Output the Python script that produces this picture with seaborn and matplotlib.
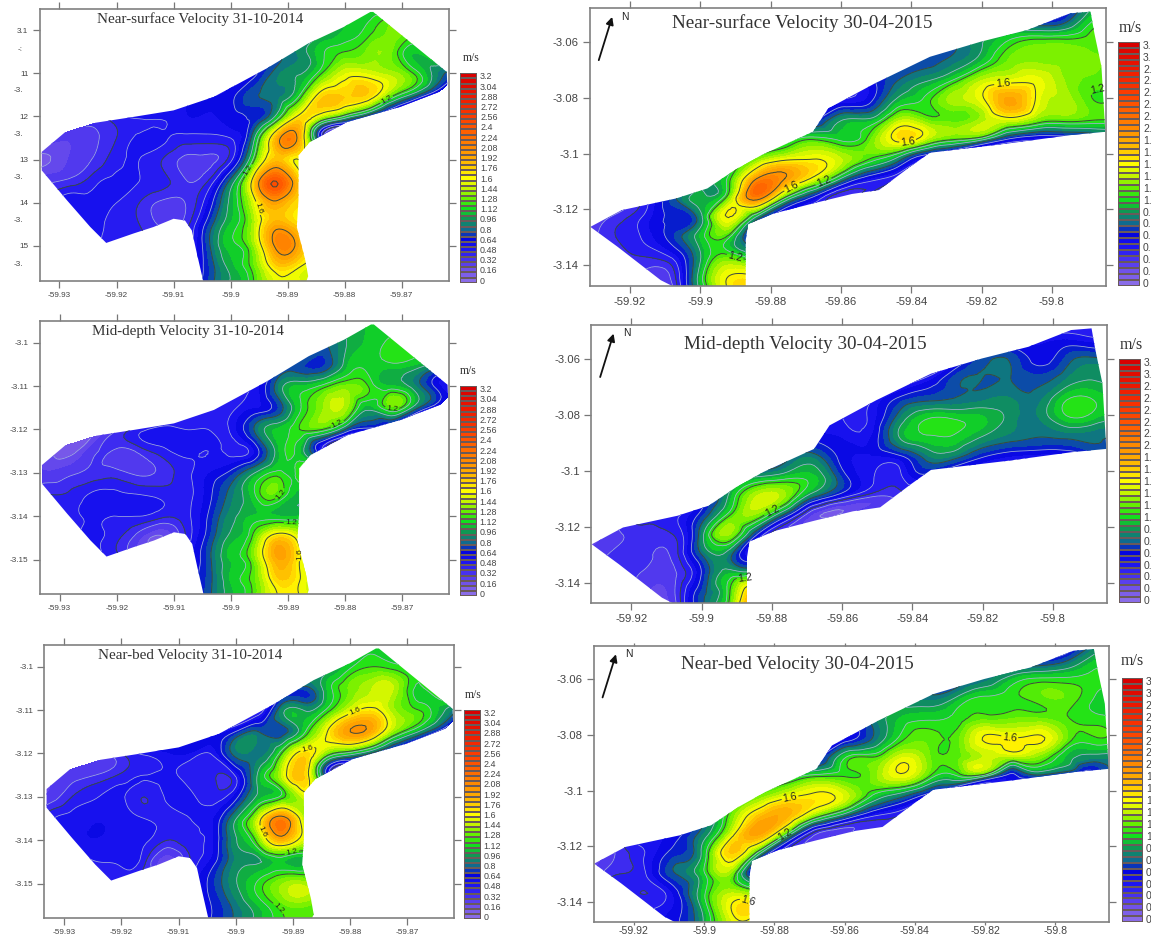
import numpy as np
import matplotlib
matplotlib.use('Agg')
import matplotlib.pyplot as plt
import matplotlib.tri as mtri
from matplotlib.patches import Polygon
from matplotlib.path import Path
import seaborn as sns

W, H = 1151, 936

# colour bar stops, one for each 0.16 m/s from 0 to 3.2
VELOCITY_COLORS = ['#8a6ce8', '#6f50ea', '#4530f0', '#1c14f2', '#0505e0', '#0f6a90', '#0f9a50',
                   '#12e01c', '#66f000', '#c4f400', '#ffff00', '#ffcc00', '#ffa800', '#ff8a00',
                   '#ff6e00', '#ff5200', '#fb3c00', '#f42800', '#ec1800', '#e20c00', '#d80000']
CBAR_LEVELS = [0, 0.08, 0.16, 0.24, 0.32, 0.4, 0.48, 0.56, 0.64, 0.72, 0.8, 0.88, 0.96, 1.04,
               1.12, 1.2, 1.28, 1.36, 1.44, 1.52, 1.6, 1.68, 1.76, 1.84, 1.92, 2.0, 2.08, 2.16,
               2.24, 2.32, 2.4, 2.48, 2.56, 2.64, 2.72, 2.8, 2.88, 2.96, 3.04, 3.12, 3.2]
CBAR_LABELS = ['3.2', '3.04', '2.88', '2.72', '2.56', '2.4', '2.24', '2.08', '1.92', '1.76', '1.6',
               '1.44', '1.28', '1.12', '0.96', '0.8', '0.64', '0.48', '0.32', '0.16', '0']
CBAR_LABELS_CUT = ['3.', '3.', '2.', '2.', '2.', '2.', '2.', '2.', '1.', '1.', '1.',
                   '1.', '1.', '1.', '0.', '0.', '0.', '0.', '0.', '0.', '0']
CBAR_LABELS_CUT2 = ['3', '3', '2', '2', '2', '2', '2', '2', '1', '1', '1',
                    '1', '1', '1', '0', '0', '0', '0', '0', '0', '0']

# sampling grid of the 2014 reach
LEFT_LON = [-59.936, -59.932, -59.928, -59.924, -59.920, -59.916, -59.912, -59.908, -59.904, -59.900,
            -59.896, -59.892, -59.888, -59.884, -59.880, -59.876, -59.872, -59.868, -59.864, -59.860]
LEFT_LAT = [-3.095, -3.100, -3.105, -3.110, -3.115, -3.120, -3.125, -3.130, -3.135, -3.140,
            -3.145, -3.150, -3.155, -3.160]
LEFT_START = [14, 13, 11, 10, 8, 4, 1, 0, 0, 1, 2, 3, 7, 7]

SURFACE_2014 = [
    [1.0, 1.05, 1.1],
    [0.9, 1.05, 1.15, 1.3, 1.3],
    [0.8, 0.9, 1.1, 1.2, 1.3, 1.3, 1.05, 1.3],
    [0.6, 0.85, 0.95, 1.2, 1.5, 1.5, 1.4, 1.2, 0.9, 0.7],
    [0.55, 0.6, 0.78, 0.85, 1.1, 1.7, 1.75, 1.75, 1.3, 0.9, 0.45],
    [0.45, 0.5, 0.5, 0.55, 0.55, 0.6, 0.65, 1.0, 1.65, 1.45, 1.1, 0.7, 0.4],
    [0.3, 0.25, 0.3, 0.4, 0.5, 0.5, 0.45, 0.45, 0.48, 0.9, 1.85, 1.9, 0.5, 0.3],
    [0.15, 0.15, 0.25, 0.33, 0.45, 0.48, 0.4, 0.3, 0.3, 0.45, 1.15, 1.8, 1.6, 1.4],
    [0.2, 0.3, 0.35, 0.45, 0.5, 0.48, 0.43, 0.33, 0.4, 0.85, 1.7, 2.4, 1.75, 1.5],
    [0.4, 0.55, 0.5, 0.48, 0.4, 0.3, 0.32, 0.55, 1.0, 1.5, 1.95, 1.7, 1.5],
    [0.45, 0.5, 0.45, 0.4, 0.3, 0.35, 0.7, 1.05, 1.4, 1.9, 1.7, 1.5],
    [0.5, 0.45, 0.42, 0.4, 0.4, 0.75, 1.08, 1.35, 2.05, 1.9, 1.6],
    [0.5, 0.7, 1.0, 1.25, 1.7, 1.6, 1.5],
    [0.55, 0.75, 1.0, 1.2, 1.55, 1.6, 1.5],
]
MIDDEPTH_2014 = [
    [1.0, 1.05, 1.05],
    [0.8, 0.95, 1.05, 1.15, 1.1],
    [0.7, 0.75, 0.7, 1.0, 1.1, 1.1, 1.05, 0.9],
    [0.5, 0.85, 1.05, 1.15, 1.3, 1.2, 1.05, 0.9, 0.6, 0.5],
    [0.4, 0.45, 0.55, 0.7, 1.1, 1.35, 1.4, 1.0, 1.25, 0.9, 0.5],
    [0.3, 0.45, 0.5, 0.48, 0.48, 0.5, 0.8, 1.05, 1.2, 1.2, 0.8, 0.6, 0.5],
    [0.2, 0.12, 0.3, 0.3, 0.35, 0.45, 0.5, 0.48, 0.45, 0.55, 1.0, 1.05, 0.5, 0.4],
    [0.25, 0.25, 0.3, 0.35, 0.35, 0.3, 0.35, 0.45, 0.55, 0.68, 0.95, 1.15, 1.2, 1.2],
    [0.35, 0.4, 0.42, 0.5, 0.5, 0.48, 0.45, 0.45, 0.6, 0.85, 1.1, 1.25, 1.0, 1.0],
    [0.42, 0.45, 0.5, 0.48, 0.48, 0.42, 0.45, 0.65, 0.92, 1.05, 1.05, 1.05, 1.0],
    [0.45, 0.5, 0.42, 0.25, 0.15, 0.4, 0.7, 1.0, 1.25, 1.75, 1.5, 1.3],
    [0.5, 0.45, 0.3, 0.3, 0.5, 0.75, 1.05, 1.3, 1.9, 1.6, 1.4],
    [0.55, 0.75, 1.05, 1.25, 1.7, 1.6, 1.4],
    [0.6, 0.78, 1.05, 1.25, 1.6, 1.65, 1.4],
]
NEARBED_2014 = [
    [1.0, 1.1, 1.1],
    [0.9, 1.1, 1.2, 1.15, 1.15],
    [0.75, 0.75, 1.05, 1.3, 1.45, 1.4, 1.1, 1.4],
    [0.4, 0.9, 0.95, 1.15, 1.5, 1.65, 1.35, 1.2, 1.0, 0.7],
    [0.5, 0.65, 0.8, 0.75, 1.1, 1.6, 2.0, 1.85, 1.3, 0.95, 0.55],
    [0.4, 0.5, 0.55, 0.55, 0.5, 0.85, 0.85, 1.2, 1.7, 1.3, 1.05, 0.75, 0.5],
    [0.25, 0.28, 0.33, 0.42, 0.48, 0.5, 0.45, 0.42, 0.5, 1.0, 1.45, 1.75, 0.6, 0.4],
    [0.25, 0.28, 0.42, 0.48, 0.5, 0.4, 0.5, 0.5, 0.45, 0.6, 1.0, 1.15, 1.5, 1.2],
    [0.3, 0.48, 0.52, 0.55, 0.52, 0.48, 0.45, 0.48, 0.55, 0.95, 1.5, 2.1, 1.4, 1.2],
    [0.45, 0.52, 0.55, 0.52, 0.5, 0.4, 0.45, 0.55, 0.95, 1.3, 1.85, 1.5, 1.2],
    [0.42, 0.48, 0.5, 0.42, 0.18, 0.4, 0.6, 0.9, 0.95, 1.05, 1.0, 1.0],
    [0.4, 0.45, 0.42, 0.35, 0.5, 0.7, 0.95, 1.15, 1.35, 1.4, 1.3],
    [0.55, 0.65, 0.85, 1.05, 1.25, 1.3, 1.2],
    [0.55, 0.68, 0.85, 1.05, 1.2, 1.3, 1.2],
]

# sampling grid of the 2015 reach
RIGHT_LON = [-59.932, -59.924, -59.916, -59.908, -59.900, -59.892, -59.884, -59.876, -59.868, -59.860,
             -59.852, -59.844, -59.836, -59.828, -59.820, -59.812, -59.804, -59.796, -59.788, -59.780]
RIGHT_LAT = [-3.046, -3.053, -3.060, -3.067, -3.074, -3.081, -3.088, -3.095, -3.102, -3.109,
             -3.116, -3.123, -3.130, -3.137, -3.144, -3.151]
RIGHT_START = [17, 15, 13, 12, 10, 8, 7, 6, 5, 4, 2, 0, 0, 1, 2, 2]

SURFACE_2015 = [
    [0.6, 0.9, 1.0],
    [0.7, 0.7, 0.8, 1.15, 1.1],
    [0.8, 0.95, 1.15, 1.25, 1.25, 1.25, 1.3],
    [0.75, 0.85, 1.05, 1.3, 1.35, 1.35, 1.3, 1.25],
    [0.6, 0.8, 0.95, 1.15, 1.45, 1.55, 1.55, 1.35, 1.25, 1.2],
    [0.4, 0.5, 0.6, 1.0, 1.15, 1.4, 1.55, 1.95, 1.55, 1.4, 1.2, 1.3],
    [0.8, 0.6, 0.95, 1.0, 1.4, 1.3, 1.25, 1.4, 1.5, 1.3, 1.25, 1.2, 1.15],
    [0.9, 1.05, 1.2, 1.1, 1.25, 1.65, 1.45, 1.2, 1.0, 0.6, 0.5, 0.5, 0.6],
    [0.95, 1.3, 1.55, 1.6, 1.45, 1.2, 0.9, 0.5],
    [0.9, 1.15, 2.0, 2.0, 1.55, 0.95, 0.55, 0.4],
    [0.45, 0.75, 1.0, 1.3, 2.1, 1.15, 0.6, 0.35],
    [0.2, 0.35, 0.5, 0.65, 0.9, 1.6, 0.9],
    [0.25, 0.4, 0.5, 0.7, 1.05, 1.15, 0.65],
    [0.35, 0.4, 0.5, 0.95, 1.25, 1.1],
    [0.3, 0.35, 1.05, 1.6, 1.6],
    [0.3, 0.3, 1.0, 1.55, 2.0],
]
MIDDEPTH_2015 = [
    [0.4, 0.5, 0.6],
    [0.45, 0.5, 0.55, 0.5, 0.6],
    [0.5, 0.75, 0.78, 0.6, 0.75, 0.82, 0.82],
    [0.5, 0.75, 0.8, 0.8, 0.75, 0.88, 0.95, 0.92],
    [0.45, 0.65, 0.75, 0.8, 0.85, 0.88, 0.85, 1.1, 1.1, 1.0],
    [0.55, 0.48, 0.5, 0.85, 1.1, 1.1, 1.05, 0.92, 0.88, 1.1, 1.05, 1.0],
    [0.65, 0.6, 0.55, 0.55, 0.95, 1.1, 1.1, 0.95, 0.85, 0.8, 0.82, 0.82, 0.82],
    [0.55, 0.75, 0.85, 0.6, 0.55, 0.6, 0.85, 0.85, 0.65, 0.55, 0.5, 0.5, 0.6],
    [0.75, 0.95, 1.05, 1.05, 0.7, 0.5, 0.45, 0.6],
    [0.55, 1.0, 1.45, 1.35, 0.85, 0.55, 0.35, 0.35],
    [0.4, 0.45, 0.7, 1.2, 1.3, 0.7, 0.2, 0.2],
    [0.2, 0.3, 0.35, 0.4, 0.9, 1.35, 0.6],
    [0.25, 0.35, 0.35, 0.35, 0.8, 0.85, 0.5],
    [0.35, 0.3, 0.3, 0.65, 1.05, 1.2],
    [0.25, 0.3, 0.75, 1.2, 1.9],
    [0.25, 0.3, 0.9, 1.4, 1.9],
]
NEARBED_2015 = [
    [0.45, 0.8, 1.0],
    [0.6, 0.65, 0.8, 1.05, 1.05],
    [0.75, 0.85, 1.05, 1.15, 1.15, 1.15, 1.1],
    [0.85, 1.0, 1.15, 1.18, 1.25, 1.25, 1.1, 1.1],
    [0.85, 1.05, 1.1, 1.15, 1.25, 1.28, 1.28, 1.2, 1.15, 1.1],
    [0.7, 0.55, 0.8, 1.15, 1.25, 1.25, 1.62, 1.6, 1.62, 1.25, 1.2, 1.1],
    [0.8, 0.55, 1.1, 1.2, 1.5, 1.3, 1.25, 1.45, 1.4, 1.3, 1.0, 0.9, 0.85],
    [0.9, 1.05, 1.2, 1.2, 1.3, 1.55, 1.2, 1.1, 0.95, 0.6, 0.7, 0.5, 0.7],
    [1.0, 1.3, 1.55, 1.65, 1.5, 1.1, 0.85, 0.55],
    [0.75, 1.3, 1.8, 1.85, 1.3, 0.85, 0.5, 0.4],
    [0.5, 0.6, 0.9, 1.55, 1.9, 1.0, 0.3, 0.3],
    [0.15, 0.35, 0.5, 0.7, 1.05, 1.75, 0.9],
    [0.25, 0.4, 0.5, 0.8, 1.1, 1.3, 0.6],
    [0.45, 0.4, 0.6, 1.1, 1.45, 1.35],
    [0.5, 0.6, 1.0, 1.6, 1.5],
    [0.5, 0.6, 1.0, 1.4, 1.2],
]

# banks of the surveyed reach
LEFT_OUTLINE_LON = [-59.9331, -59.9278, -59.9170, -59.9100, -59.9030, -59.8937, -59.8864, -59.8802,
                    -59.8755, -59.8750, -59.8621, -59.8620, -59.8703, -59.8796, -59.8861, -59.8881,
                    -59.8881, -59.8884, -59.8869, -59.8864, -59.8867, -59.9048, -59.9059, -59.9068,
                    -59.9080, -59.9100, -59.9135, -59.9170, -59.9218, -59.9246, -59.9287, -59.9331]
LEFT_OUTLINE_LAT = [-3.1282, -3.1223, -3.1201, -3.1186, -3.1155, -3.1089, -3.1031, -3.0993,
                    -3.0958, -3.0958, -3.1097, -3.1136, -3.1178, -3.1213, -3.1259, -3.1290,
                    -3.1394, -3.1456, -3.1533, -3.1570, -3.1581, -3.1581, -3.1518, -3.1464,
                    -3.1441, -3.1437, -3.1456, -3.1471, -3.1493, -3.1456, -3.1394, -3.1325]
RIGHT_OUTLINE_LON = [-59.9313, -59.9224, -59.9069, -59.8980, -59.8902, -59.8825, -59.8680, -59.8636,
                     -59.8503, -59.8347, -59.8203, -59.8070, -59.7948, -59.7890, -59.7879, -59.7859,
                     -59.7848, -59.7948, -59.8125, -59.8347, -59.8403, -59.8492, -59.8569, -59.8680,
                     -59.8791, -59.8864, -59.8871, -59.8871, -59.9080, -59.9113, -59.9236]
RIGHT_OUTLINE_LAT = [-3.1263, -3.1203, -3.1161, -3.1125, -3.1059, -3.1005, -3.0922, -3.0838,
                     -3.0748, -3.0653, -3.0599, -3.0557, -3.0497, -3.0491, -3.0569, -3.0688,
                     -3.0922, -3.0934, -3.0964, -3.0997, -3.1047, -3.1131, -3.1145, -3.1179,
                     -3.1215, -3.1253, -3.1310, -3.1475, -3.1475, -3.1454, -3.1334]

LEFT_XTICKS = [-59.93, -59.92, -59.91, -59.90, -59.89, -59.88, -59.87]
LEFT_XLABELS = ['-59.93', '-59.92', '-59.91', '-59.9', '-59.89', '-59.88', '-59.87']
LEFT_YTICKS = [-3.10, -3.11, -3.12, -3.13, -3.14, -3.15]
LEFT_YLABELS = ['-3.1', '-3.11', '-3.12', '-3.13', '-3.14', '-3.15']
TOP_LEFT_YLABELS = ['3.1', '11', '12', '13', '14', '15']
TOP_LEFT_BROKEN = ['-:', '-3.', '-3.', '-3.', '-3.', '-3.']
TOP_LEFT_BROKEN_LAT = [-3.1044, -3.1141, -3.1242, -3.1342, -3.1442, -3.1542]
RIGHT_XTICKS = [-59.92, -59.90, -59.88, -59.86, -59.84, -59.82, -59.80]
RIGHT_XLABELS = ['-59.92', '-59.9', '-59.88', '-59.86', '-59.84', '-59.82', '-59.8']
RIGHT_YTICKS = [-3.06, -3.08, -3.10, -3.12, -3.14]
RIGHT_YLABELS = ['-3.06', '-3.08', '-3.1', '-3.12', '-3.14']


def px_rect(left, top, right, bottom):
    return [left / W, 1 - bottom / H, (right - left) / W, (bottom - top) / H]


def draw_map(ax, rows, start, lons, lats, outline_lon, outline_lat, label_size):
    xs, ys, zs = [], [], []
    for lat, first, row in zip(lats, start, rows):
        for i, value in enumerate(row):
            xs.append(lons[first + i])
            ys.append(lat)
            zs.append(value)

    tri = mtri.Triangulation(xs, ys)
    tri.set_mask(mtri.TriAnalyzer(tri).get_flat_tri_mask(0.02))
    fine_tri, fine_z = mtri.UniformTriRefiner(tri).refine_field(np.array(zs), subdiv=3)
    fine_z = np.clip(fine_z, 0.02, 3.19)

    outline = Polygon(np.column_stack([outline_lon, outline_lat]), closed=True,
                      transform=ax.transData, facecolor='none', edgecolor='none')
    ax.add_patch(outline)

    fill = ax.tricontourf(fine_tri, fine_z, levels=CBAR_LEVELS, cmap=velocity_cmap, vmin=0, vmax=3.2)
    minor = ax.tricontour(fine_tri, fine_z, levels=[0.16, 0.32, 0.48, 0.64, 0.96, 1.12],
                          colors='#a4abdc', linewidths=0.55)
    major = ax.tricontour(fine_tri, fine_z, levels=[0.4, 0.8, 1.2, 1.6, 2.0, 2.4],
                          colors='#3a4a40', linewidths=0.7)
    labels = ax.clabel(major, levels=[1.2, 1.6], fmt='%g', fontsize=label_size,
                       colors='#222222', inline=True, inline_spacing=1)
    bank = Path(np.column_stack([outline_lon, outline_lat]))
    for text in labels:
        if not bank.contains_point(text.get_position()):
            text.remove()
    for layer in (fill, minor, major):
        layer.set_clip_path(outline)


def style_axes(ax, xlim, ylim, xticks, xlabels, yticks, ylabels, size):
    ax.set_xlim(*xlim)
    ax.set_ylim(*ylim)
    ax.set_xticks(xticks, xlabels)
    ax.set_yticks(yticks, ylabels)
    ax.tick_params(top=True, right=True, direction='out', length=5, width=0.9, color='#777777',
                   labelcolor='#444444', labelsize=size, pad=3)
    for spine in ax.spines.values():
        spine.set_visible(True)
        spine.set_color('#808080')
        spine.set_linewidth(1.2)


def draw_cbar(rect, labels, size):
    cax = fig.add_axes(px_rect(*rect))
    values = np.array(CBAR_LEVELS[::-1]).reshape(-1, 1)
    sns.heatmap(values, ax=cax, cmap=velocity_cmap, vmin=0, vmax=3.2, cbar=False,
                xticklabels=False, yticklabels=False, linewidths=0.2, linecolor='#6a5a5a')
    cax.yaxis.tick_right()
    cax.set_yticks(np.arange(0.5, 41, 2), labels, rotation=0)
    cax.tick_params(axis='y', length=0, pad=2, labelsize=size, labelcolor='#444444')


sns.set_theme(style='ticks')
plt.rcParams['font.family'] = ['Liberation Sans', 'DejaVu Sans']
velocity_cmap = sns.blend_palette(VELOCITY_COLORS, 256, as_cmap=True)

fig = plt.figure(figsize=(W / 100, H / 100), dpi=100)

left_lim = ((-59.9335, -59.8618), (-3.158, -3.095))
right_lim = ((-59.9314, -59.7846), (-3.1474, -3.0479))

left_frames = [(39.5, 8.5, 448.5, 280.5), (39.7, 321, 449.3, 594.3), (44.3, 645, 454.3, 918.3)]
left_titles = ['Near-surface Velocity 31-10-2014', 'Mid-depth Velocity 31-10-2014', 'Near-bed Velocity 31-10-2014']
left_data = [SURFACE_2014, MIDDEPTH_2014, NEARBED_2014]
left_title_x = [0.392, 0.362, 0.355]
left_cbars = [(460, 73.3, 477.3, 282.7), (460, 386, 477, 596), (464, 710, 481, 919)]
left_units = [(471, 58), (468, 371), (473, 695)]

right_frames = [(590, 8.3, 1106, 285.7), (591.4, 325, 1107, 603.3), (593.8, 645.7, 1109.4, 922.3)]
right_titles = ['Near-surface Velocity 30-04-2015', 'Mid-depth Velocity 30-04-2015', 'Near-bed Velocity 30-04-2015']
right_data = [SURFACE_2015, MIDDEPTH_2015, NEARBED_2015]
right_title_x = [0.411, 0.414, 0.394]
right_title_y = [0.946, 0.93, 0.933]
right_cbars = [(1118.3, 41.7, 1140.2, 286), (1119, 359, 1140.5, 603.3), (1122, 678, 1143, 922.3)]
right_units = [(1130, 28), (1131, 345), (1132, 661)]
right_cbar_labels = [CBAR_LABELS_CUT, CBAR_LABELS_CUT, CBAR_LABELS_CUT2]

for i in range(3):
    ax = fig.add_axes(px_rect(*left_frames[i]))
    draw_map(ax, left_data[i], LEFT_START, LEFT_LON, LEFT_LAT, LEFT_OUTLINE_LON, LEFT_OUTLINE_LAT, 6)
    ylabels = TOP_LEFT_YLABELS if i == 0 else LEFT_YLABELS
    style_axes(ax, *left_lim, LEFT_XTICKS, LEFT_XLABELS, LEFT_YTICKS, ylabels, 5.9)
    ax.text(left_title_x[i], 0.961, left_titles[i], transform=ax.transAxes, ha='center', va='center',
            family='Liberation Serif', fontsize=10.9, color='#333333')
    if i == 0:
        for label, lat in zip(TOP_LEFT_BROKEN, TOP_LEFT_BROKEN_LAT):
            ax.text(-0.04, lat, label, transform=ax.get_yaxis_transform(), ha='right', va='center',
                    fontsize=5.9, color='#444444')
    draw_cbar(left_cbars[i], CBAR_LABELS, 6.4)
    fig.text(left_units[i][0] / W, 1 - left_units[i][1] / H, 'm/s', ha='center', va='center',
             family='Liberation Serif', fontsize=8.5, color='#333333')

    ax = fig.add_axes(px_rect(*right_frames[i]))
    draw_map(ax, right_data[i], RIGHT_START, RIGHT_LON, RIGHT_LAT, RIGHT_OUTLINE_LON, RIGHT_OUTLINE_LAT, 7.5)
    style_axes(ax, *right_lim, RIGHT_XTICKS, RIGHT_XLABELS, RIGHT_YTICKS, RIGHT_YLABELS, 8.2)
    if i == 2:
        # bottom row sits right at the image edge
        ax.tick_params(axis='x', bottom=True, length=2.5, pad=0.5, labelsize=7.6)
    ax.text(right_title_x[i], right_title_y[i], right_titles[i], transform=ax.transAxes, ha='center',
            va='center', family='Liberation Serif', fontsize=13.8, color='#333333')
    ax.annotate('', xy=(0.043, 0.969), xytext=(0.017, 0.813), xycoords='axes fraction',
                arrowprops=dict(arrowstyle='-|>', color='#111111', lw=1.3, mutation_scale=11,
                                shrinkA=0, shrinkB=0))
    ax.text(0.068, 0.97, 'N', transform=ax.transAxes, ha='center', va='center', fontsize=7.5, color='#222222')
    draw_cbar(right_cbars[i], right_cbar_labels[i], 7.5)
    fig.text(right_units[i][0] / W, 1 - right_units[i][1] / H, 'm/s', ha='center', va='center',
             family='Liberation Serif', fontsize=11.5, color='#333333')

fig.savefig('out.png', dpi=100)
